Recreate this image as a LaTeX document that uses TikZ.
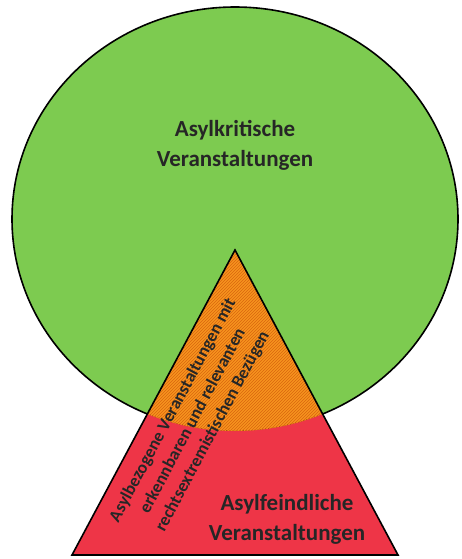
\documentclass[tikz,border=0pt]{standalone}
\usepackage{fontspec}
\setmainfont{Carlito}
\usetikzlibrary{patterns}
\definecolor{cgreen}{HTML}{7DCB50}
\definecolor{cred}{HTML}{EE3547}
\definecolor{corange}{HTML}{F7941E}
\definecolor{cstripe}{HTML}{D9650F}
\tikzset{
  outline/.style={draw=black, line width=1.6pt},
  bigtext/.style={font=\bfseries\fontsize{23}{30}\selectfont, align=center, text=black!85},
  smalltext/.style={font=\bfseries\fontsize{17.5}{22.5}\selectfont, align=center, text=black!85, rotate=62, inner sep=0pt}
}
\begin{document}
\begin{tikzpicture}[x=1pt,y=-1pt]
\useasboundingbox (0,0) rectangle (461,559);
% ellipse
\coordinate (C) at (235,219);
\fill[cgreen] (C) ellipse [x radius=223pt, y radius=212pt];
\draw[outline] (C) ellipse [x radius=223pt, y radius=212pt];
% triangle
\coordinate (A) at (235,250);
\coordinate (L) at (72,555);
\coordinate (R) at (398,555);
\fill[cred] (A) -- (L) -- (R) -- cycle;
% intersection
\begin{scope}
  \clip (A) -- (L) -- (R) -- cycle;
  \fill[corange] (C) ellipse [x radius=223pt, y radius=212pt];
  \clip (C) ellipse [x radius=223pt, y radius=212pt];
  \fill[pattern=north east lines, pattern color=cstripe] (A) -- (L) -- (R) -- cycle;
  \draw[cstripe!60!black, line width=0.8pt, dotted] (C) ellipse [x radius=223pt, y radius=212pt];
\end{scope}
\draw[outline, line join=miter] (A) -- (L) -- (R) -- cycle;
% texts
\node[bigtext] (t1) at (235,145) {Asylkritische\\Veranstaltungen};
\node[bigtext] (t2) at (287,519) {Asylfeindliche\\Veranstaltungen};
\node[smalltext] (t3) at (193,421) {Asylbezogene Veranstaltungen mit\\erkennbaren und relevanten\\rechtsextremistischen Bezügen};
\end{tikzpicture}
\end{document}
